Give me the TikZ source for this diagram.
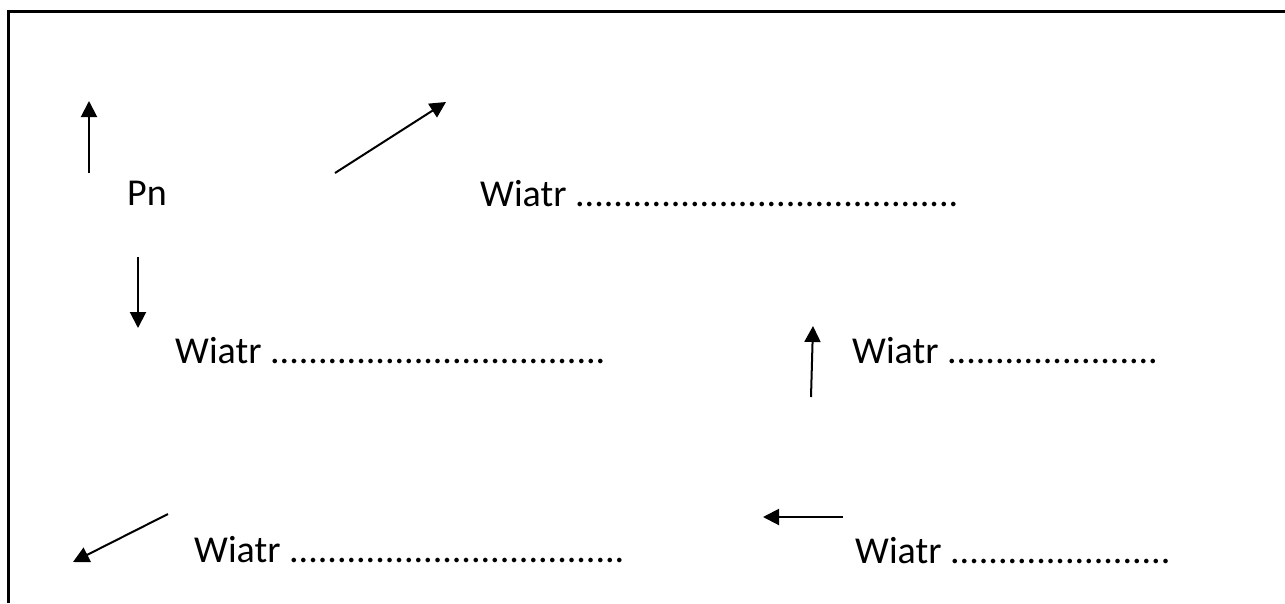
\documentclass[tikz,border=0pt]{standalone}
\usepackage{fontspec}
\setmainfont{Carlito}
\usetikzlibrary{arrows.meta}

\begin{document}
\begin{tikzpicture}[x=1pt,y=-1pt,
	wind/.style={line width=2pt,-{Triangle[length=16pt,width=16pt]}},
	txt/.style={anchor=base west,inner sep=0pt,font=\fontsize{38}{46}\selectfont}]
	\useasboundingbox (0,0) rectangle (1285,603);
	\draw [line width=3pt] (8,603) -- (8,11) -- (1285,11);
	% texts
	\node [txt] (pn) at (127,205) {Pn};
	\node [txt] (w1) at (480,206) {Wiatr ........................................};
	\node [txt] (w2) at (175,363) {Wiatr ...................................};
	\node [txt] (w3) at (852,363) {Wiatr ......................};
	\node [txt] (w4) at (194,562) {Wiatr ...................................};
	\node [txt] (w5) at (855,563) {Wiatr .......................};
	% arrows
	\coordinate (a1s) at (89,173);  \coordinate (a1e) at (89,101);
	\coordinate (a2s) at (335,173); \coordinate (a2e) at (446,102);
	\coordinate (a3s) at (138,257); \coordinate (a3e) at (138,328);
	\coordinate (a4s) at (811,397); \coordinate (a4e) at (813,326);
	\coordinate (a5s) at (843,517); \coordinate (a5e) at (763,517);
	\coordinate (a6s) at (168,514); \coordinate (a6e) at (73,562);
	\draw [wind] (a1s) -- (a1e);
	\draw [wind] (a2s) -- (a2e);
	\draw [wind] (a3s) -- (a3e);
	\draw [wind] (a4s) -- (a4e);
	\draw [wind] (a5s) -- (a5e);
	\draw [wind] (a6s) -- (a6e);
\end{tikzpicture}
\end{document}
